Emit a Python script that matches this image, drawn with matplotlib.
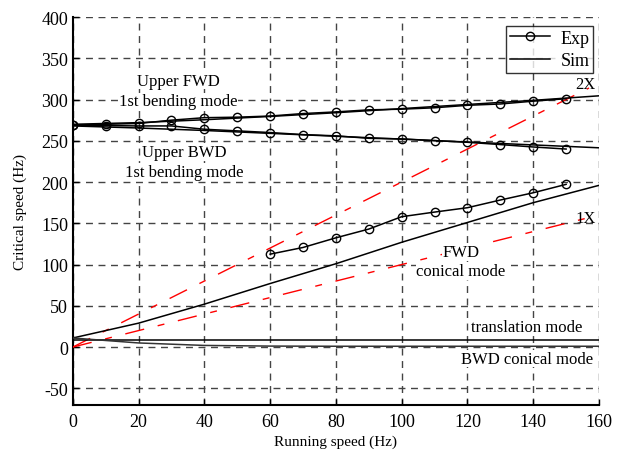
import numpy as np
import matplotlib.pyplot as plt

plt.rcParams['font.family'] = ['Liberation Serif', 'DejaVu Serif']
plt.rcParams['axes.unicode_minus'] = False

# experimental points
exp_speed = [0, 10, 20, 30, 40, 50, 60, 70, 80, 90, 100, 110, 120, 130, 140, 150]
exp_fwd_bend = [269, 270, 271, 275, 278, 278.6, 280, 283, 285, 287.5, 288.3, 290, 293, 294.6, 298, 301]
exp_bwd_bend = [269, 268.4, 268, 268, 264, 262, 260, 257.5, 256, 253, 252.3, 250.2, 248.2, 245.4, 242.5, 240]
exp_cone_speed = [60, 70, 80, 90, 100, 110, 120, 130, 140, 150]
exp_fwd_cone = [112.6, 120.7, 132.4, 143, 158, 163.6, 168.9, 178.2, 187, 197.2]

# simulation curves
sim_speed = [0, 20, 40, 60, 80, 100, 120, 140, 160]
sim_fwd_bend = [270, 272, 275.5, 279.5, 284, 289, 294, 299, 304.5]
sim_bwd_bend = [268, 265.5, 262.5, 259, 255.5, 252, 248.5, 245, 241.5]
sim_fwd_cone = [11, 29, 52, 77, 101, 127, 151, 175, 196]
sim_transl = [8, 8, 8, 8, 8, 8, 8, 8, 8]
sim_bwd_cone = [11, 5, 2, 1.2, 1, 1, 1, 1, 1]

# excitation lines
ex1_speed = [0, 158]
ex1 = [0, 158]
ex2_speed = [0, 157]
ex2 = [0, 314]

fig = plt.figure(figsize=(6.22, 4.56), dpi=100)
ax = fig.add_axes([0.117, 0.110, 0.846, 0.8505])

red_dash = (14, 10, 5, 10)
ax.plot(ex1_speed, ex1, color='red', lw=1.0, dashes=red_dash, zorder=3)
ax.plot(ex2_speed, ex2, color='red', lw=1.0, dashes=red_dash, zorder=3)

lw = 1.1
ax.plot(sim_speed, sim_fwd_bend, color='black', lw=lw, zorder=4)
ax.plot(sim_speed, sim_bwd_bend, color='black', lw=lw, zorder=4)
ax.plot(sim_speed, sim_fwd_cone, color='black', lw=lw, zorder=4)
ax.plot(sim_speed, sim_transl, color='black', lw=lw, zorder=4)
ax.plot(sim_speed, sim_bwd_cone, color='#333333', lw=lw, zorder=4)

mk = dict(color='black', lw=lw, marker='o', markersize=6, markerfacecolor='none',
          markeredgewidth=1.0, zorder=5)
ax.plot(exp_speed, exp_fwd_bend, **mk)
ax.plot(exp_speed, exp_bwd_bend, **mk)
ax.plot(exp_cone_speed, exp_fwd_cone, **mk)

# legend handles
h_exp, = ax.plot([], [], **mk)
h_sim, = ax.plot([], [], color='black', lw=lw)
leg = ax.legend([h_exp, h_sim], ['Exp', 'Sim'], loc='upper right',
                bbox_to_anchor=(0.989, 0.977), borderaxespad=0, fontsize=13,
                frameon=True, fancybox=False, edgecolor='black', handlelength=2.2,
                borderpad=0.2, labelspacing=0.3, handletextpad=0.6)
leg.get_frame().set_linewidth(1.0)

ax.set_xlim(0, 160)
ax.set_ylim(-70, 400)
ax.set_xticks(np.arange(0, 161, 20))
ax.set_yticks(np.arange(-50, 401, 50))
ax.grid(True, color='#444444', linestyle=(0, (5, 4)), lw=1.0)
ax.spines['top'].set_visible(False)
ax.spines['right'].set_visible(False)
ax.spines['left'].set_linewidth(1.5)
ax.spines['bottom'].set_linewidth(1.5)
ax.tick_params(direction='in', labelsize=13, length=4, width=1)
ax.tick_params(axis='x', pad=6)

ax.set_xlabel('Running speed (Hz)', fontsize=11, labelpad=3)
ax.set_ylabel('Critical speed (Hz)', fontsize=11, labelpad=10)

fs = 12
bg = dict(facecolor='white', edgecolor='none', pad=0.5)
ax.text(32, 323, 'Upper FWD', ha='center', va='center', fontsize=fs, bbox=bg, zorder=6)
ax.text(32, 298, '1st bending mode', ha='center', va='center', fontsize=fs, bbox=bg, zorder=6)
ax.text(34, 236, 'Upper BWD', ha='center', va='center', fontsize=fs, bbox=bg, zorder=6)
ax.text(34, 212, '1st bending mode', ha='center', va='center', fontsize=fs, bbox=bg, zorder=6)
ax.text(156, 319, '2X', ha='center', va='center', fontsize=fs, zorder=6)
ax.text(156, 156, '1X', ha='center', va='center', fontsize=fs, zorder=6)
ax.text(118, 115, 'FWD', ha='center', va='center', fontsize=fs, bbox=bg, zorder=6)
ax.text(118, 92, 'conical mode', ha='center', va='center', fontsize=fs, bbox=bg, zorder=6)
ax.text(138, 24, 'translation mode', ha='center', va='center', fontsize=fs, bbox=bg, zorder=6)
ax.text(138, -14, 'BWD conical mode', ha='center', va='center', fontsize=fs, bbox=bg, zorder=6)

fig.savefig('out.png', dpi=100)
